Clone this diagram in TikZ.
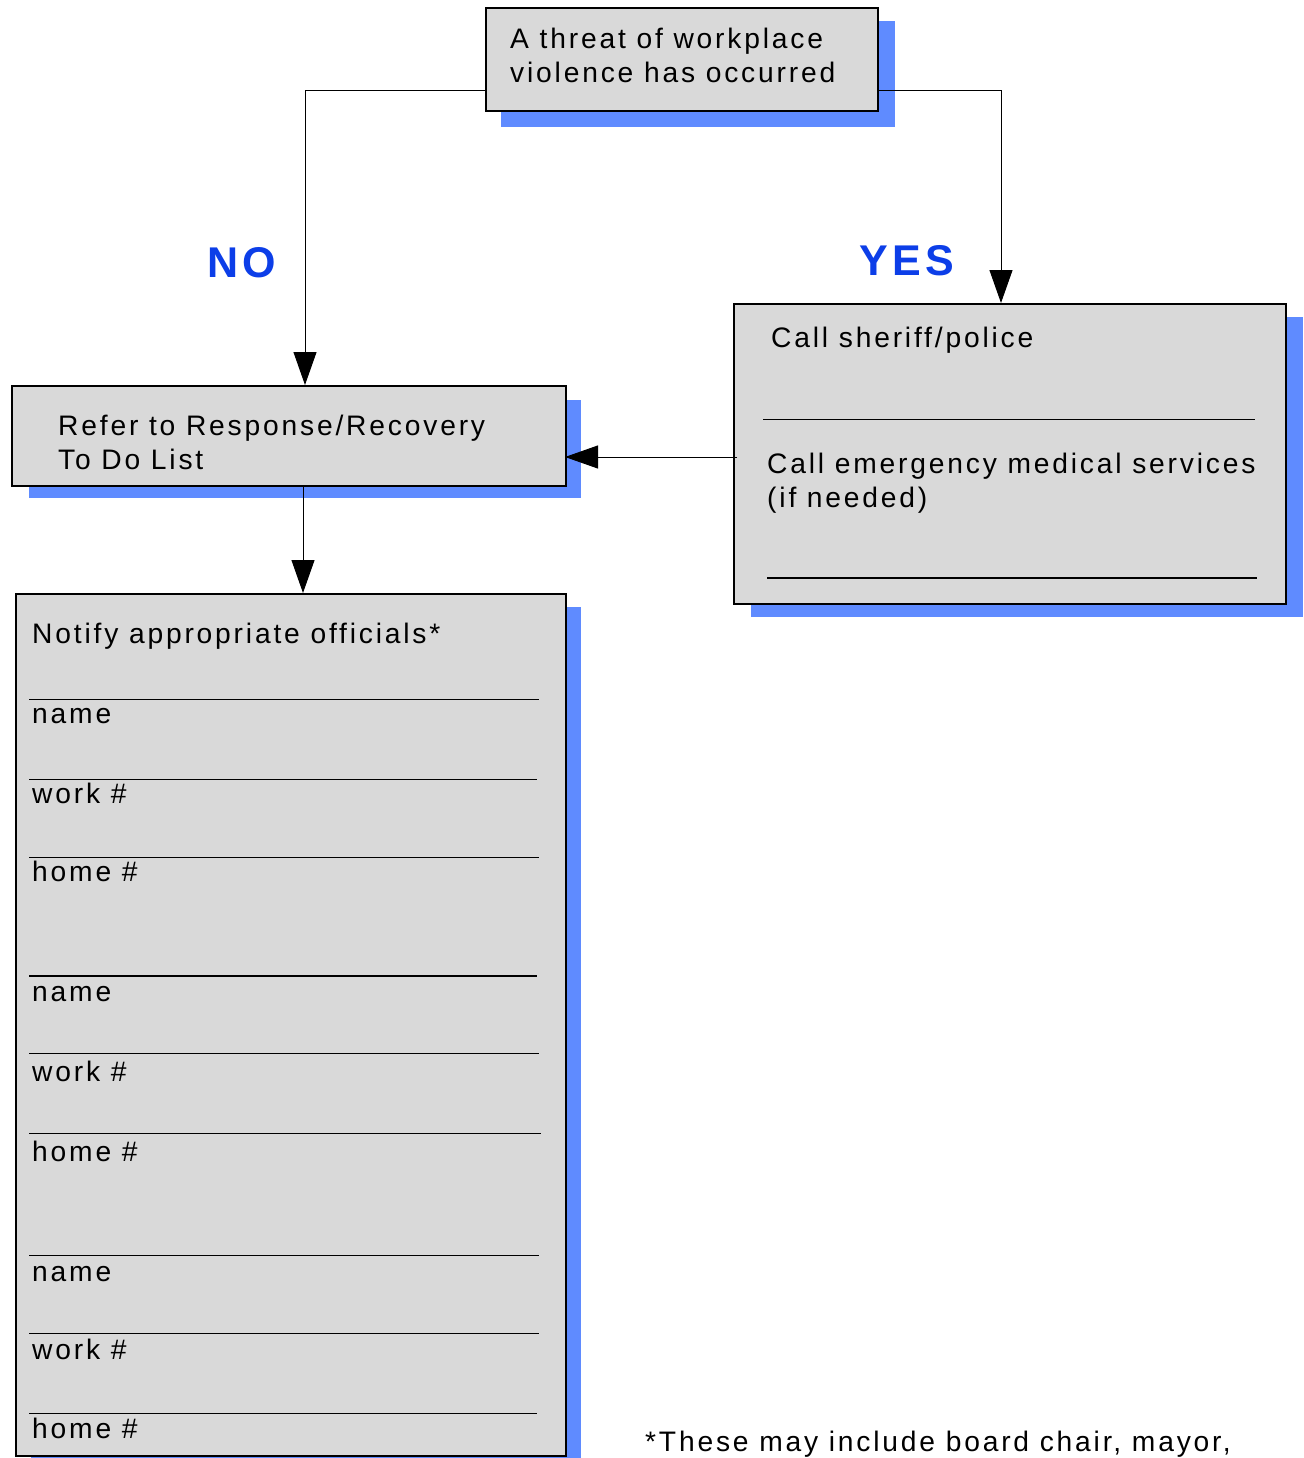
\documentclass[tikz,border=0pt]{standalone}
\usepackage{fontspec}
\setmainfont{Liberation Sans}[LetterSpace=10]
\usetikzlibrary{arrows.meta}
\definecolor{shadowblue}{RGB}{95,139,255}
\definecolor{boxgray}{RGB}{217,217,217}
\definecolor{labelblue}{RGB}{12,62,232}
\tikzset{
  box/.style={draw=black, line width=2pt, fill=boxgray, rectangle, inner sep=0pt, anchor=north west},
  shadowfill/.style={fill=shadowblue},
  txt/.style={anchor=base west, inner sep=0pt, font=\fontsize{28.2}{34}\selectfont},
  yn/.style={anchor=base west, inner sep=0pt, text=labelblue, font=\fontsize{43}{50}\selectfont\bfseries},
  conn/.style={draw=black, line width=1pt},
  tipped/.style={-{Triangle[length=33pt,width=23pt]}},
  rule/.style={draw=black, line width=1pt},
  thickrule/.style={draw=black, line width=2pt},
}
\begin{document}
\begin{tikzpicture}[x=1pt,y=-1pt]
\useasboundingbox (0,0) rectangle (1303,1458);
\clip (0,0) rectangle (1303,1458);
\fill[white] (0,0) rectangle (1303,1458);

% shadows
\fill[shadowfill] (501,21) rectangle (895,127);
\fill[shadowfill] (29,400) rectangle (581,498);
\fill[shadowfill] (751,317) rectangle (1303,617);
\fill[shadowfill] (31,607) rectangle (581,1462);

% boxes
\node[box, minimum width=392pt, minimum height=103pt] (top) at (485,7) {};
\node[box, minimum width=554pt, minimum height=100pt] (refer) at (11,385) {};
\node[box, minimum width=552pt, minimum height=300pt] (call) at (733,303) {};
\node[box, minimum width=550pt, minimum height=862pt] (notify) at (15,593) {};

% top box text
\node[txt] (t1) at (510,49) {A threat of workplace};
\node[txt] (t2) at (510,83) {violence has occurred};

% refer box text
\node[txt] (r1) at (58,435) {Refer to Response/Recovery};
\node[txt] (r2) at (58,469) {To Do List};

% call box text and rules
\node[txt] (c1) at (771,347) {Call sheriff/police};
\draw[rule] (763,419) -- (1255,419);
\node[txt] (c2) at (767,473) {Call emergency medical services};
\node[txt] (c3) at (767,507) {(if needed)};
\draw[thickrule] (767,578) -- (1257,578);

% notify box
\node[txt] (n0) at (32,643) {Notify appropriate officials*};
\draw[rule] (29,699) -- (539,699);
\node[txt] (n1) at (32,723) {name};
\draw[rule] (29,779) -- (537,779);
\node[txt] (n2) at (32,803) {work \#};
\draw[rule] (29,857) -- (539,857);
\node[txt] (n3) at (32,881) {home \#};
\draw[thickrule] (29,976) -- (537,976);
\node[txt] (n4) at (32,1001) {name};
\draw[rule] (29,1053) -- (539,1053);
\node[txt] (n5) at (32,1081) {work \#};
\draw[rule] (29,1133) -- (541,1133);
\node[txt] (n6) at (32,1161) {home \#};
\draw[rule] (29,1255) -- (539,1255);
\node[txt] (n7) at (32,1281) {name};
\draw[rule] (29,1333) -- (539,1333);
\node[txt] (n8) at (32,1359) {work \#};
\draw[rule] (29,1413) -- (537,1413);
\node[txt] (n9) at (32,1438) {home \#};

% labels
\node[yn] (no) at (207,277) {NO};
\node[yn] (yes) at (859,275) {YES};

% footnote
\node[txt] (foot) at (645,1451) {*These may include board chair, mayor,};

% connector anchor points
\coordinate (topL) at (485,91);
\coordinate (topR) at (877,91);
\coordinate (referIn) at (305,385);
\coordinate (callIn) at (1001,303);
\coordinate (callOut) at (737,457);
\coordinate (referRight) at (565,457);
\coordinate (referOut) at (303,485);
\coordinate (notifyIn) at (303,593);

\draw[conn, tipped] (topL) -| (referIn);
\draw[conn, tipped] (topR) -| (callIn);
\draw[conn, tipped] (callOut) -- (referRight);
\draw[conn, tipped] (referOut) -- (notifyIn);
\end{tikzpicture}
\end{document}
